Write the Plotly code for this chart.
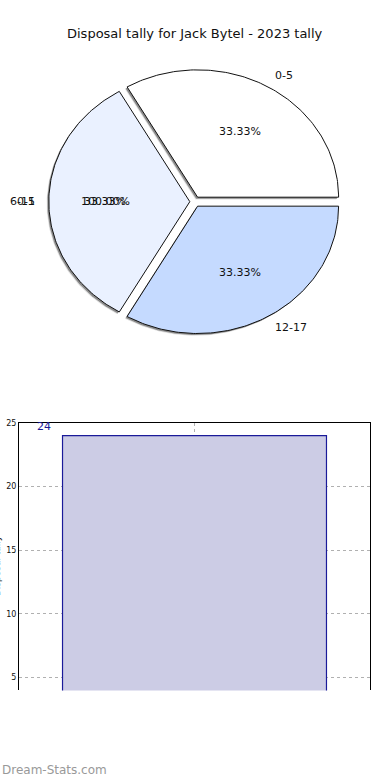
import numpy as np
import plotly.graph_objects as go

# ---------------- data ----------------
title = "Disposal tally for Jack Bytel - 2023 tally"
pie_labels = ["0-5", "6-11", "12-17"]
pie_values = [1, 1, 1]
pie_colors = ["#ffffff", "#eaf1ff", "#c5daff"]
# overlapping stray text seen on the left wedge in the reference
overlay_label = "0-5"
overlay_pct = "100.00%"

bar_categories = ["2023"]
bar_values = [24]
y_ticks = [5, 10, 15, 20, 25]
watermark = "Dream-Stats.com"

# ---------------- geometry (pixels) ----------------
W, H = 390, 780
cx, cy = 195.0, 198.7
rx, ry = 141.0, 128.0
explode_px = 5.2
FONT = "DejaVu Sans"

fig = go.Figure()

total = float(sum(pie_values))
wedges = []
start = 0.0
for lab, val, col in zip(pie_labels, pie_values, pie_colors):
    span = 360.0 * val / total
    t1, t2 = start, start + span
    mid = np.radians((t1 + t2) / 2)
    ox, oy = explode_px * np.cos(mid), explode_px * np.sin(mid)
    th = np.radians(np.linspace(t1, t2, 120))
    xs = np.concatenate([[cx + ox], cx + ox + rx * np.cos(th), [cx + ox]])
    ys = np.concatenate([[cy - oy], cy - oy - ry * np.sin(th), [cy - oy]])
    wedges.append((lab, val, col, xs, ys, mid, ox, oy))
    start = t2

# shadows
for lab, val, col, xs, ys, mid, ox, oy in wedges:
    fig.add_trace(go.Scatter(x=xs - 2.2, y=ys + 2.2, mode="lines", fill="toself",
                             fillcolor="rgba(0,0,0,0.12)", line=dict(width=0),
                             xaxis="x2", yaxis="y2", hoverinfo="skip", showlegend=False))
    fig.add_trace(go.Scatter(x=xs - 1.5, y=ys + 1.5, mode="lines", fill="toself",
                             fillcolor="rgba(70,70,70,0.55)", line=dict(width=0),
                             xaxis="x2", yaxis="y2", hoverinfo="skip", showlegend=False))
# wedges
for lab, val, col, xs, ys, mid, ox, oy in wedges:
    fig.add_trace(go.Scatter(x=xs, y=ys, mode="lines", fill="toself",
                             fillcolor=col, line=dict(color="#111111", width=1),
                             xaxis="x2", yaxis="y2", name=lab, showlegend=False))

annotations = []
for lab, val, col, xs, ys, mid, ox, oy in wedges:
    pct = "%.2f%%" % (100.0 * val / total)
    px = cx + ox + 0.6 * rx * np.cos(mid)
    py = cy - oy - 0.6 * ry * np.sin(mid)
    annotations.append(dict(x=px, y=py, xref="x2", yref="y2", text=pct, showarrow=False,
                            font=dict(family=FONT, size=11, color="#111"),
                            xanchor="center", yanchor="middle"))
    lx = cx + ox + 1.1 * rx * np.cos(mid)
    ly = cy - oy - 1.1 * ry * np.sin(mid)
    xa = "left" if np.cos(mid) >= 0 else "right"
    annotations.append(dict(x=lx, y=ly, xref="x2", yref="y2", text=lab, showarrow=False,
                            font=dict(family=FONT, size=11, color="#111"),
                            xanchor=xa, yanchor="middle", xshift=(-2 if xa == "left" else 2)))
    if lab == "6-11":
        annotations.append(dict(x=px, y=py, xref="x2", yref="y2", text=overlay_pct,
                                showarrow=False, font=dict(family=FONT, size=11, color="#111"),
                                xanchor="center", yanchor="middle"))
        annotations.append(dict(x=lx, y=ly, xref="x2", yref="y2", text=overlay_label,
                                showarrow=False, font=dict(family=FONT, size=11, color="#111"),
                                xanchor="right", yanchor="middle", xshift=2))

# ---------------- bar chart ----------------
fig.add_trace(go.Bar(x=[0], y=bar_values, width=0.752, name=bar_categories[0],
                     marker=dict(color="#cccce5", line=dict(color="#1a1a99", width=1.2)),
                     xaxis="x", yaxis="y", showlegend=False))
annotations.append(dict(x=-0.43, y=bar_values[0] + 0.7, xref="x", yref="y",
                        text=str(bar_values[0]), showarrow=False,
                        font=dict(family=FONT, size=11, color="#1a1a99"),
                        xanchor="center", yanchor="middle"))

# y axis title (cut off at left edge in reference)
annotations.append(dict(x=0, y=(H - 565) / H, xref="paper", yref="paper", xshift=-3,
                        text="Disposal tally", textangle=-90, showarrow=False,
                        font=dict(family=FONT, size=9, color="#111"),
                        xanchor="center", yanchor="middle"))
annotations.append(dict(x=0, y=770, xref="x2", yref="y2", text=watermark, showarrow=False,
                        font=dict(family=FONT, size=12, color="#999"),
                        xanchor="left", yanchor="middle"))
annotations.append(dict(x=195, y=30, xref="x2", yref="y2", text=title, showarrow=False,
                        font=dict(family=FONT, size=13, color="#111"),
                        xanchor="center", yanchor="middle"))

y_bottom_px, y_top_px = 690, 421
fig.update_layout(
    width=W, height=H, margin=dict(l=0, r=0, t=0, b=0),
    paper_bgcolor="white", plot_bgcolor="rgba(0,0,0,0)",
    annotations=annotations,
    xaxis=dict(domain=[19 / W, 370 / W], range=[-0.5, 0.5], side="top",
               showline=True, linecolor="#000", linewidth=1,
               tickvals=[0], showticklabels=False, ticks="",
               showgrid=True, gridcolor="#b0b0b0", griddash="dot", gridwidth=1,
               zeroline=False, anchor="y"),
    yaxis=dict(domain=[(H - y_bottom_px) / H, (H - y_top_px) / H], range=[3.98, 25],
               tickvals=y_ticks, ticks="", showline=True, mirror=True,
               linecolor="#000", linewidth=1,
               tickfont=dict(family=FONT, size=8, color="#111"),
               showgrid=True, gridcolor="#b0b0b0", griddash="dot", gridwidth=1,
               zeroline=False, anchor="x"),
    xaxis2=dict(domain=[0, 1], range=[0, W], visible=False, anchor="y2"),
    yaxis2=dict(domain=[0, 1], range=[H, 0], visible=False, anchor="x2"),
)

fig.write_html("out.html")
